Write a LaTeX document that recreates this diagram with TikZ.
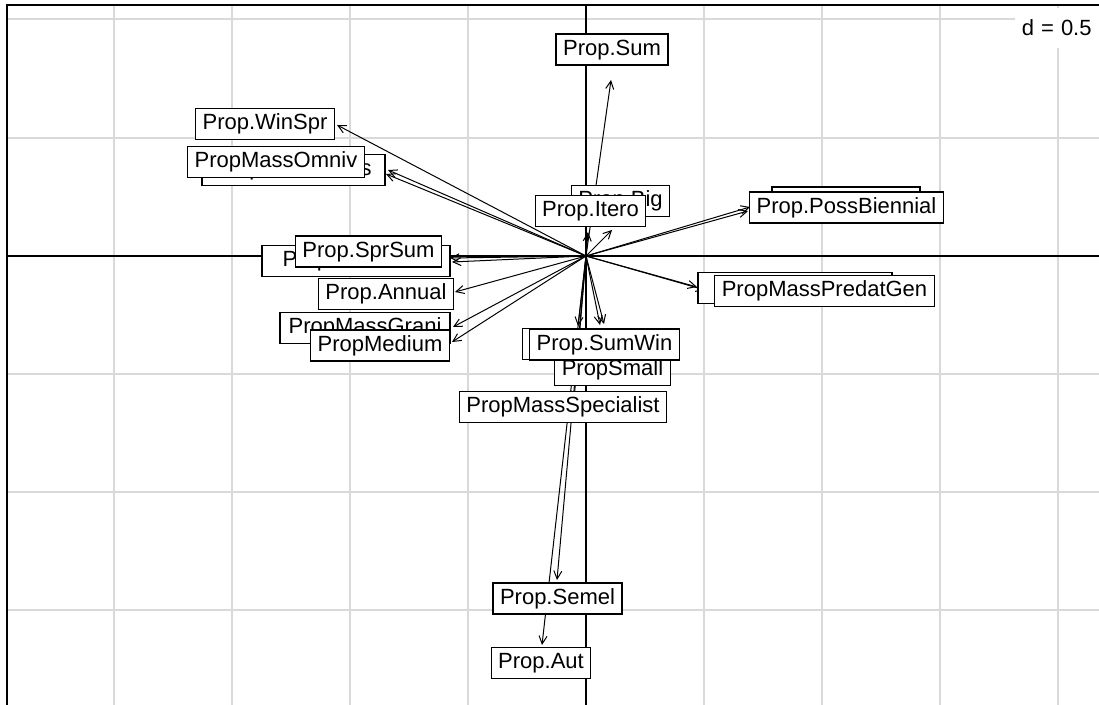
\documentclass[tikz,border=0pt]{standalone}
\usepackage{fontspec}
\setmainfont{Liberation Sans}
\usetikzlibrary{arrows.meta}
\tikzset{
    >={Straight Barb[length=4pt, width=4pt]}, % open arrow heads
    lab/.style={
            draw,
            fill=white,
            line width=0.65pt,
            font=\fontsize{11}{13}\selectfont,
            inner xsep=3.5pt,
            inner ysep=0pt,
            minimum height=15.5pt, % boxes are all the same height
            text height=8pt,
            text depth=2.3pt
        },
    vec/.style={->, line width=0.5pt},
    gridline/.style={black!15, line width=0.9pt},
    axisline/.style={black, line width=0.7pt}
}
\begin{document}
\begin{tikzpicture}[x=0.5pt, y=-0.5pt]
                \useasboundingbox (0,0) rectangle (1099,705);

                % grid
                \foreach \gx in {114,232,350,468,704,822,940,1058}
                    \draw[gridline] (\gx,5) -- (\gx,705);
                \foreach \gy in {19,138,374,492,610}
                    \draw[gridline] (7,\gy) -- (1099,\gy);

                % axes and frame
                \draw[axisline] (7,256) -- (1099,256);
                \draw[axisline] (586,5) -- (586,705);
                \draw[axisline, line width=0.8pt] (7,705) -- (7,5) -- (1099,5);

                % scale
                \node[fill=white, font=\fontsize{11}{13}\selectfont, inner xsep=3.5pt, minimum height=20pt, anchor=east] (scale) at (1099,28) {d\hspace{3.5pt}=\hspace{3.5pt}0.5};

                % origin and arrow ends
                \coordinate (o) at (586,256);
                \coordinate (tSum) at (611,80);
                \coordinate (tWinSpr) at (337,125);
                \coordinate (tOmniv) at (388,170);
                \coordinate (tPeren) at (386,174);
                \coordinate (tSprSum) at (450,258);
                \coordinate (tBivolt) at (452,262);
                \coordinate (tAnnual) at (455,292);
                \coordinate (tGrani) at (453,327);
                \coordinate (tMedium) at (452,342);
                \coordinate (tBig) at (612,230);
                \coordinate (tItero) at (588,232);
                \coordinate (tPossBi) at (750,207);
                \coordinate (tBienn) at (748,211);
                \coordinate (tPredat) at (705,290);
                \coordinate (tHerbiv) at (697,287);
                \coordinate (tSumWin) at (600,325);
                \coordinate (tBrachy) at (578,326);
                \coordinate (tSmall) at (604,324);
                \coordinate (tSpec) at (574,400);
                \coordinate (tSemel) at (557,580);
                \coordinate (tAut) at (542,645);

                % arrows
                \draw[vec] (o) -- (tSum);
                \draw[vec] (o) -- (tWinSpr);
                \draw[vec] (o) -- (tOmniv);
                \draw[vec] (o) -- (tPeren);
                \draw[vec] (o) -- (tSprSum);
                \draw[vec] (o) -- (tBivolt);
                \draw[vec] (o) -- (tAnnual);
                \draw[vec] (o) -- (tGrani);
                \draw[vec] (o) -- (tMedium);
                \draw[vec] (o) -- (tBig);
                \draw[vec] (o) -- (tItero);
                \draw[vec] (o) -- (tPossBi);
                \draw[vec] (o) -- (tBienn);
                \draw[vec] (o) -- (tPredat);
                \draw[vec] (o) -- (tHerbiv);
                \draw[vec] (o) -- (tSumWin);
                \draw[vec] (o) -- (tBrachy);
                \draw[vec] (o) -- (tSmall);
                \draw[vec] (o) -- (tSpec);
                \draw[vec] (o) -- (tSemel);
                \draw[vec] (o) -- (tAut);

                % labels (hidden ones first)
                \node[lab] (sum) at (612,49.5) {Prop.Sum};
                \node[lab] (winspr) at (265,124) {Prop.WinSpr};
                \node[lab, minimum width=91.5pt] (peren) at (293.5,170) {Prop.Perennials};
                \node[lab] (omniv) at (276,162) {PropMassOmniv};
                \node[lab, minimum width=94pt] (bivolt) at (356,261) {Prop.Bivoltines};
                \node[lab] (sprsum) at (368.5,251.5) {Prop.SprSum};
                \node[lab] (annual) at (386,294) {Prop.Annual};
                \node[lab, minimum width=85pt] (grani) at (365,328) {PropMassGrani};
                \node[lab] (medium) at (380,345.5) {PropMedium};
                \node[lab, minimum width=46.5pt] (big) at (620.5,201) {Prop.Big};
                \node[lab] (itero) at (590.5,211) {Prop.Itero};
                \node[lab, minimum width=74pt, minimum height=16.5pt] (bienn) at (846,203.5) {Prop.Biennial};
                \node[lab, minimum width=93.5pt] (possbi) at (846.5,207.5) {Prop.PossBiennial};
                \node[lab, minimum width=97pt] (herbiv) at (795,288) {PropMassHerbiv};
                \node[lab] (predat) at (824.5,291) {PropMassPredatGen};
                \node[lab] (small) at (612.5,370) {PropSmall};
                \node[lab] (brachy) at (590,344) {Prop.Brachy};
                \node[lab] (sumwin) at (604.5,344.5) {Prop.SumWin};
                \node[lab] (spec) at (563,407) {PropMassSpecialist};
                \node[lab] (semel) at (557.5,598.5) {Prop.Semel};
                \node[lab] (aut) at (541,663) {Prop.Aut};

\end{tikzpicture}
\end{document}
